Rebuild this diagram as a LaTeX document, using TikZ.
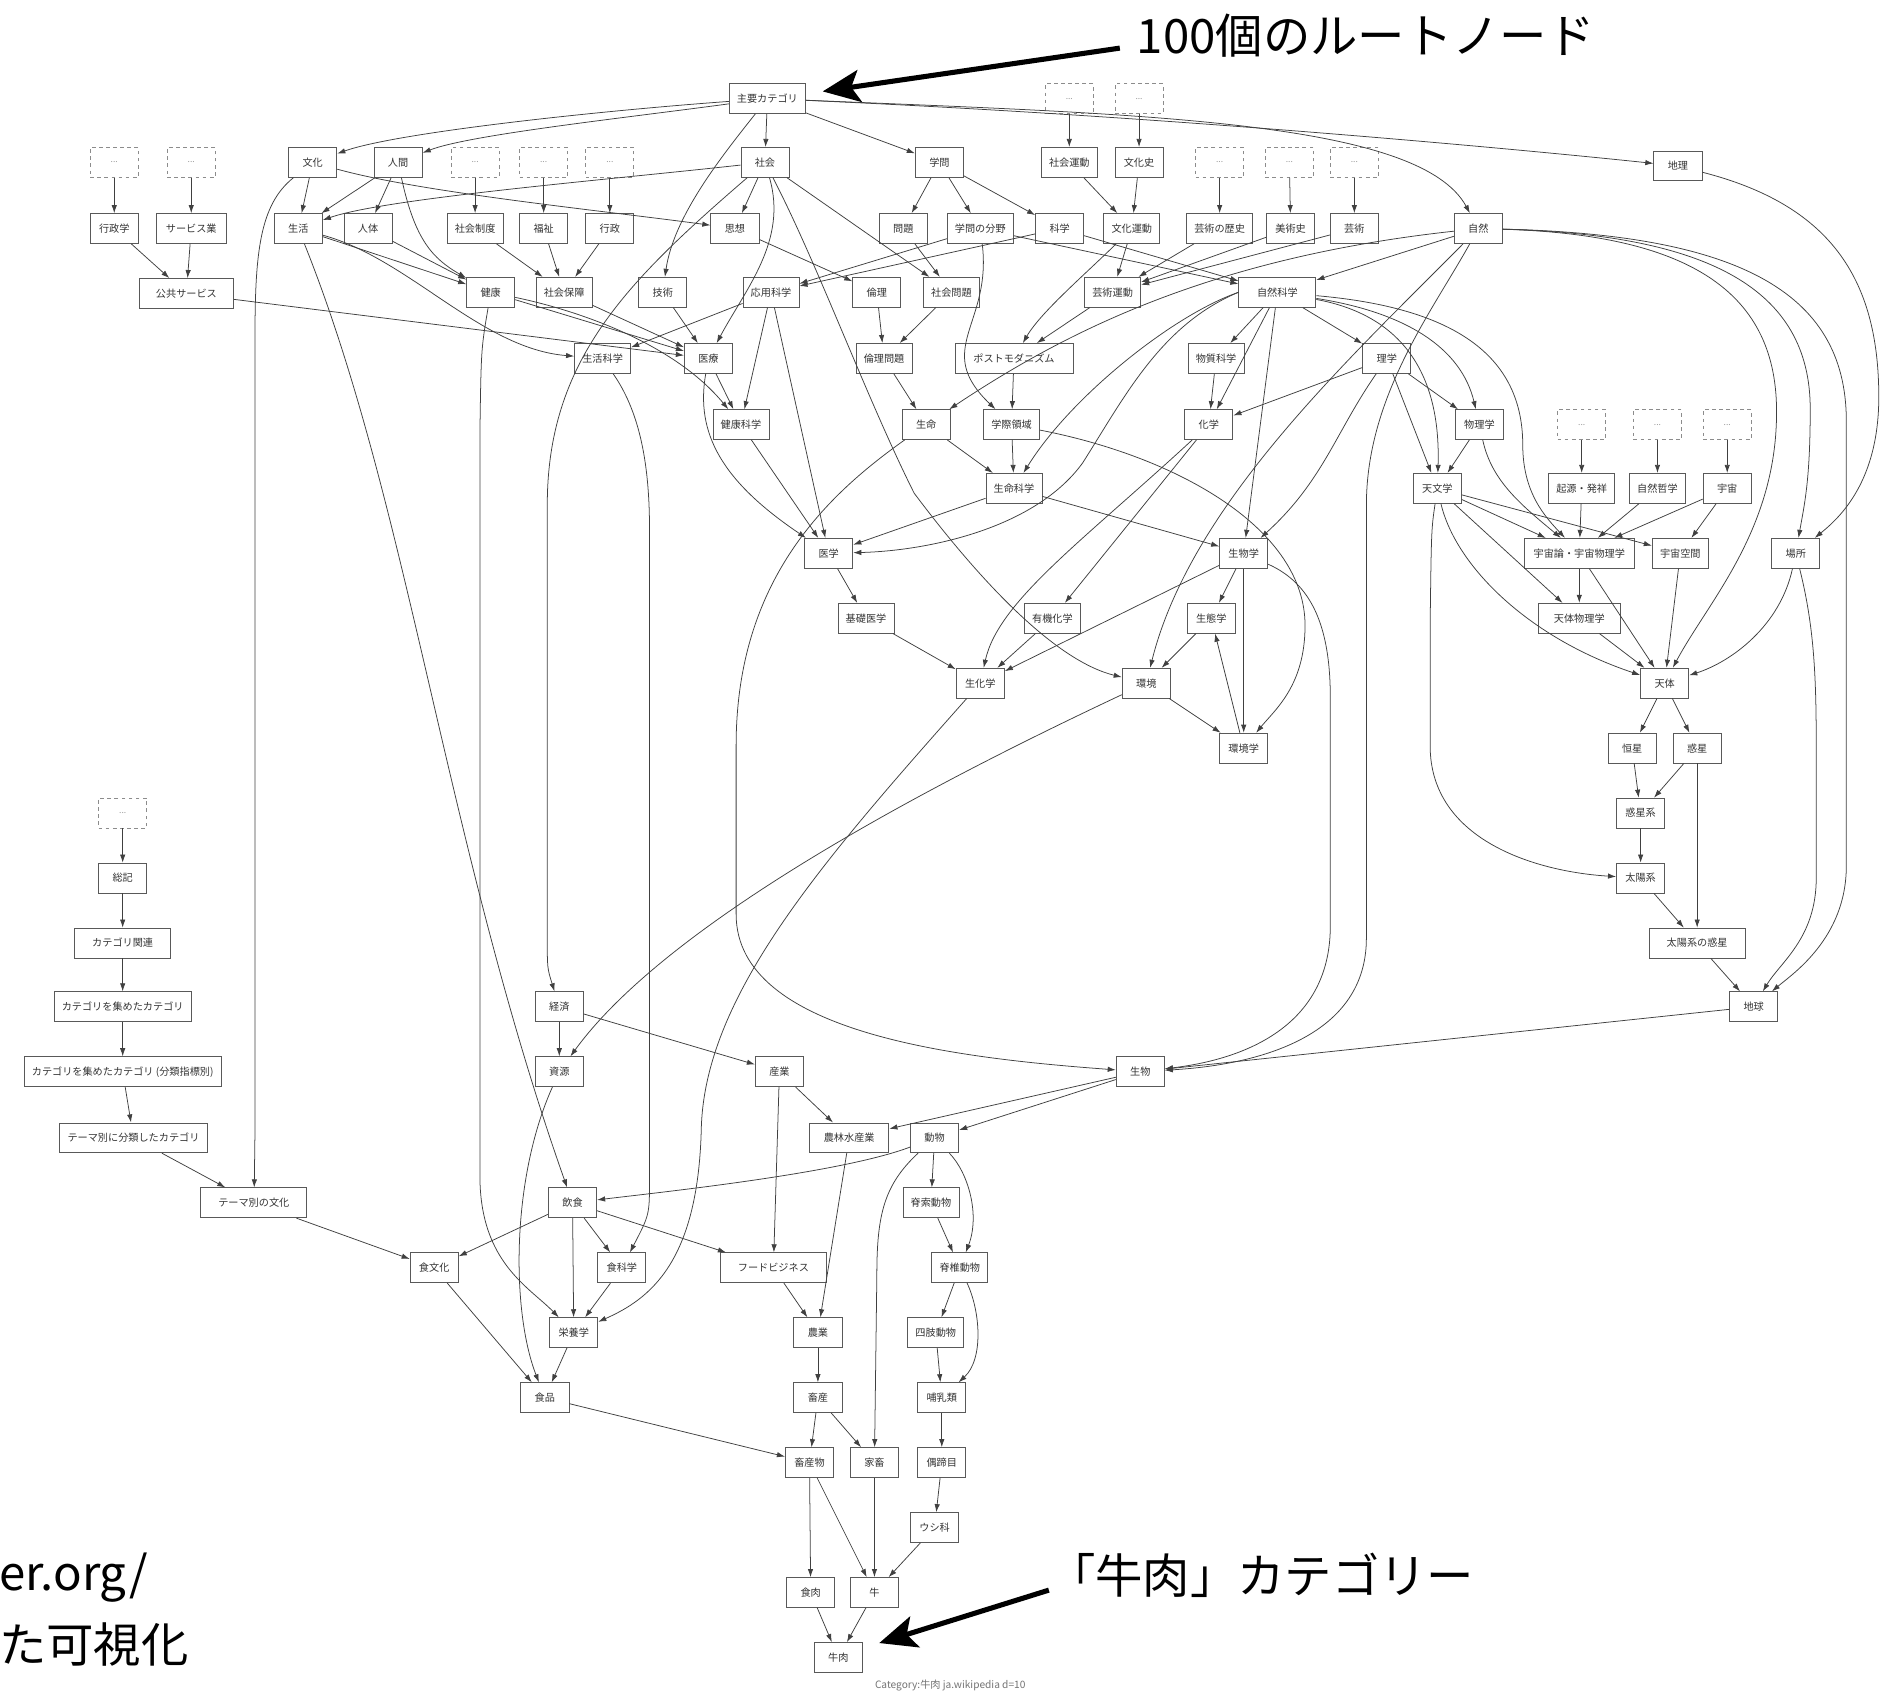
\documentclass[tikz,border=0pt]{standalone}
\usepackage{fontspec}
\setmainfont{Noto Sans CJK JP}
\usetikzlibrary{arrows.meta}
\begin{document}
\begin{tikzpicture}[x=0.025cm,y=-0.025cm,
  n/.style={draw=black!65,line width=0.5pt,fill=white,minimum width=1cm,minimum height=0.62cm,inner xsep=0.16cm,inner ysep=0pt,font=\fontsize{6}{7}\selectfont,text=black!80},
  dn/.style={draw=black!45,line width=0.5pt,dash pattern=on 2.2pt off 2pt,minimum width=1cm,minimum height=0.62cm,font=\fontsize{5}{6}\selectfont,text=black!40},
  e/.style={draw=black!75,line width=0.45pt,-{Latex[length=4.8pt,width=3.2pt]}},
  big/.style={line width=3pt,-{Stealth[length=22pt,width=19pt,inset=5pt]}},
  ann/.style={font=\fontsize{28}{30}\selectfont,inner sep=0pt}]
\useasboundingbox (0,0) rectangle (1568,1406);
% ---------- nodes ----------
\node[n] (main) at (638,82) {主要カテゴリ};
\node[dn] (dA) at (889,82) {...};
\node[dn] (dB) at (947,82) {...};
\node[dn] (dC) at (95,135) {...};
\node[dn] (dD) at (159,135) {...};
\node[n] (bunka) at (260,135) {文化};
\node[n] (ningen) at (331,135) {人間};
\node[dn] (dE) at (395,135) {...};
\node[dn] (dF) at (452,135) {...};
\node[dn] (dG) at (507,135) {...};
\node[n] (shakai) at (636,135) {社会};
\node[n] (gakumon) at (781,135) {学問};
\node[n] (shakaiundo) at (889,135) {社会運動};
\node[n] (bunkashi) at (947,135) {文化史};
\node[dn] (dH) at (1014,135) {...};
\node[dn] (dI) at (1072,135) {...};
\node[dn] (dJ) at (1126,135) {...};
\node[n] (chiri) at (1395,138) {地理};
\node[n] (gyoseigaku) at (95,190) {行政学};
\node[n,minimum width=1.45cm] (service) at (159,190) {サービス業};
\node[n] (seikatsu) at (248,190) {生活};
\node[n] (jintai) at (306,190) {人体};
\node[n] (shakaiseido) at (395,190) {社会制度};
\node[n] (fukushi) at (452,190) {福祉};
\node[n] (gyosei) at (507,190) {行政};
\node[n] (shiso) at (611,190) {思想};
\node[n] (mondai) at (751,190) {問題};
\node[n] (bunya) at (815,190) {学問の分野};
\node[n] (kagaku) at (881,190) {科学};
\node[n] (bunkaundo) at (941,190) {文化運動};
\node[n] (geirek) at (1014,190) {芸術の歴史};
\node[n] (bijutsushi) at (1073,190) {美術史};
\node[n] (geijutsu) at (1126,190) {芸術};
\node[n] (shizen) at (1229,190) {自然};
\node[n,minimum width=1.95cm] (kokyo) at (155,244) {公共サービス};
\node[n] (kenko) at (408,243) {健康};
\node[n] (shakaihosho) at (469,243) {社会保障};
\node[n] (gijutsu) at (551,243) {技術};
\node[n] (oyokagaku) at (641,243) {応用科学};
\node[n] (rinri) at (729,243) {倫理};
\node[n] (shakaimondai) at (791,243) {社会問題};
\node[n] (geijutsuundo) at (925,243) {芸術運動};
\node[n,minimum width=1.6cm] (shizenkagaku) at (1062,243) {自然科学};
\node[n] (seikatsukagaku) at (501,298) {生活科学};
\node[n] (iryo) at (589,298) {医療};
\node[n] (rinrimondai) at (735,298) {倫理問題};
\node[n,minimum width=2.45cm] (postmodern) at (843,298) {ポストモダニズム};
\node[n] (busshitsu) at (1011,298) {物質科学};
\node[n] (rigaku) at (1153,298) {理学};
\node[n] (kenkokagaku) at (616,353) {健康科学};
\node[n] (seimei) at (770,353) {生命};
\node[n] (gakusai) at (841,353) {学際領域};
\node[n] (kagakuC) at (1005,353) {化学};
\node[n] (butsuri) at (1230,353) {物理学};
\node[dn] (dK) at (1315,353) {...};
\node[dn] (dL) at (1378,353) {...};
\node[dn] (dM) at (1436,353) {...};
\node[n] (seimeikagaku) at (843,406) {生命科学};
\node[n] (tenmon) at (1195,406) {天文学};
\node[n] (kigen) at (1315,406) {起源・発祥};
\node[n] (shizentetsu) at (1378,406) {自然哲学};
\node[n] (uchu) at (1436,406) {宇宙};
\node[n] (igaku) at (689,460) {医学};
\node[n] (seibutsugaku) at (1034,460) {生物学};
\node[n,minimum width=2.3cm] (uchuron) at (1313,460) {宇宙論・宇宙物理学};
\node[n] (uchukukan) at (1397,460) {宇宙空間};
\node[n] (basho) at (1493,460) {場所};
\node[n] (kisoigaku) at (720,514) {基礎医学};
\node[n] (yuki) at (875,514) {有機化学};
\node[n] (seitai) at (1007,514) {生態学};
\node[n,minimum width=1.7cm] (tentaibutsuri) at (1313,514) {天体物理学};
\node[n] (seikagaku) at (815,568) {生化学};
\node[n] (kankyo) at (953,568) {環境};
\node[n] (tentai) at (1384,568) {天体};
\node[n] (kankyogaku) at (1034,622) {環境学};
\node[n] (kosei) at (1357,622) {恒星};
\node[n] (wakusei) at (1411,622) {惑星};
\node[dn] (dN) at (102,676) {...};
\node[n] (wakuseikei) at (1364,676) {惑星系};
\node[n] (soki) at (102,730) {総記};
\node[n] (taiyokei) at (1364,730) {太陽系};
\node[n,minimum width=2cm] (catkanren) at (102,784) {カテゴリ関連};
\node[n,minimum width=2cm] (taiyowakusei) at (1411,784) {太陽系の惑星};
\node[n] (catcat) at (102,837) {カテゴリを集めたカテゴリ};
\node[n] (keizai) at (465,837) {経済};
\node[n] (chikyu) at (1458,837) {地球};
\node[n] (catcat2) at (102,891) {カテゴリを集めたカテゴリ (分類指標別)};
\node[n] (shigen) at (465,891) {資源};
\node[n] (sangyo) at (648,891) {産業};
\node[n] (seibutsu) at (948,891) {生物};
\node[n] (theme) at (111,946) {テーマ別に分類したカテゴリ};
\node[n,minimum width=1.65cm] (norin) at (706,946) {農林水産業};
\node[n] (dobutsu) at (777,946) {動物};
\node[n,minimum width=2.2cm] (themebunka) at (211,1000) {テーマ別の文化};
\node[n] (inshoku) at (476,1000) {飲食};
\node[n] (sekisaku) at (774,1000) {脊索動物};
\node[n] (shokubunka) at (361,1054) {食文化};
\node[n] (shokkagaku) at (517,1054) {食科学};
\node[n,minimum width=2.2cm] (food) at (643,1054) {フードビジネス};
\node[n] (sekitsui) at (798,1054) {脊椎動物};
\node[n] (eiyo) at (477,1108) {栄養学};
\node[n] (nogyo) at (680,1108) {農業};
\node[n] (shishi) at (778,1108) {四肢動物};
\node[n] (shokuhin) at (453,1162) {食品};
\node[n] (chikusan) at (680,1162) {畜産};
\node[n] (honyurui) at (783,1162) {哺乳類};
\node[n] (chikusanbutsu) at (673,1216) {畜産物};
\node[n] (kachiku) at (727,1216) {家畜};
\node[n] (gutei) at (783,1216) {偶蹄目};
\node[n] (ushika) at (777,1270) {ウシ科};
\node[n] (shokuniku) at (674,1324) {食肉};
\node[n] (ushi) at (727,1324) {牛};
\node[n] (gyuniku) at (697,1378) {牛肉};
\node[font=\fontsize{6}{7}\selectfont,text=black!55,inner sep=0pt] (caption) at (790,1401) {Category:牛肉 ja.wikipedia d=10};
% ---------- annotations ----------
\node[ann,anchor=east] (ann1) at (1326,30) {100個のルートノード};
\node[ann,anchor=east] (ann2) at (1226,1310) {「牛肉」カテゴリー};
\node[ann,anchor=west] (ann3) at (-1,1312) {er.org/};
\node[ann,anchor=west] (ann4) at (-1,1367) {た可視化};
\coordinate (s1) at (931,40);
\coordinate (t1) at (684,76);
\coordinate (s2) at (872,1322);
\coordinate (t2) at (731,1366);
\draw[big] (s1) -- (t1);
\draw[big] (s2) -- (t2);
% ---------- straight edges ----------
\foreach \a/\b in {main/shakai,main/gakumon,dA/shakaiundo,dB/bunkashi,dC/gyoseigaku,dD/service,
  dE/shakaiseido,dF/fukushi,dG/gyosei,dH/geirek,dI/bijutsushi,dJ/geijutsu,dK/kigen,dL/shizentetsu,dM/uchu,dN/soki,
  bunka/seikatsu,ningen/seikatsu,ningen/jintai,shakai/shiso,gakumon/mondai,gakumon/bunya,gakumon/kagaku,
  shakaiundo/bunkaundo,bunkashi/bunkaundo,gyoseigaku/kokyo,service/kokyo,shakaiseido/shakaihosho,fukushi/shakaihosho,
  gyosei/shakaihosho,seikatsu/kenko,jintai/kenko,shiso/rinri,mondai/shakaimondai,shakai/shakaimondai,
  bunya/oyokagaku,kagaku/oyokagaku,bunkaundo/geijutsuundo,geirek/geijutsuundo,bijutsushi/geijutsuundo,geijutsu/geijutsuundo,
  bunya/shizenkagaku,kagaku/shizenkagaku,shizen/shizenkagaku,kokyo/iryo,kenko/iryo,shakaihosho/iryo,gijutsu/iryo,
  oyokagaku/seikatsukagaku,rinri/rinrimondai,shakaimondai/rinrimondai,geijutsuundo/postmodern,
  shizenkagaku/busshitsu,shizenkagaku/rigaku,shizenkagaku/kagakuC,shizenkagaku/seibutsugaku,
  iryo/kenkokagaku,oyokagaku/kenkokagaku,rinrimondai/seimei,postmodern/gakusai,busshitsu/kagakuC,
  rigaku/kagakuC,rigaku/butsuri,rigaku/tenmon,butsuri/tenmon,seimei/seimeikagaku,gakusai/seimeikagaku,
  kigen/uchuron,shizentetsu/uchuron,uchu/uchuron,uchu/uchukukan,tenmon/uchuron,tenmon/uchukukan,tenmon/tentaibutsuri,
  seimeikagaku/igaku,seimeikagaku/seibutsugaku,kenkokagaku/igaku,oyokagaku/igaku,igaku/kisoigaku,seibutsugaku/seitai,
  uchuron/tentaibutsuri,uchuron/tentai,uchukukan/tentai,tentaibutsuri/tentai,kisoigaku/seikagaku,yuki/seikagaku,
  seibutsugaku/seikagaku,kagakuC/yuki,seitai/kankyo,kankyo/kankyogaku,seibutsugaku/kankyogaku,kankyogaku/seitai,
  tentai/kosei,tentai/wakusei,kosei/wakuseikei,wakusei/wakuseikei,wakuseikei/taiyokei,taiyokei/taiyowakusei,
  wakusei/taiyowakusei,taiyowakusei/chikyu,soki/catkanren,catkanren/catcat,catcat/catcat2,catcat2/theme,
  theme/themebunka,themebunka/shokubunka,chikyu/seibutsu,keizai/shigen,keizai/sangyo,seibutsu/norin,seibutsu/dobutsu,
  sangyo/norin,sangyo/food,dobutsu/sekisaku,inshoku/shokubunka,inshoku/shokkagaku,inshoku/eiyo,inshoku/food,
  shokkagaku/eiyo,sekisaku/sekitsui,food/nogyo,norin/nogyo,sekitsui/shishi,shokubunka/shokuhin,eiyo/shokuhin,
  nogyo/chikusan,shishi/honyurui,shokuhin/chikusanbutsu,chikusan/chikusanbutsu,chikusan/kachiku,honyurui/gutei,
  gutei/ushika,chikusanbutsu/shokuniku,chikusanbutsu/ushi,kachiku/ushi,ushika/ushi,shokuniku/gyuniku,ushi/gyuniku}
  {\draw[e] (\a) -- (\b);}
% ---------- curved edges ----------
\draw[e] (main) .. controls (500,92) and (330,110) .. (bunka);
\draw[e] (main) .. controls (520,98) and (390,112) .. (ningen);
\draw[e] (main) .. controls (1000,98) and (1300,128) .. (chiri);
\draw[e] (main) .. controls (950,95) and (1180,100) .. (shizen);
\draw[e] (main) .. controls (600,130) and (560,180) .. (gijutsu);
\draw[e] (shakai) .. controls (500,150) and (320,165) .. (seikatsu);
\draw[e] (bunka) .. controls (350,160) and (500,175) .. (shiso);
\draw[e] (ningen) .. controls (345,200) and (360,215) .. (kenko);
\draw[e] (seikatsu) .. controls (340,215) and (400,290) .. (seikatsukagaku);
\draw[e] (kenko) .. controls (480,258) and (560,285) .. (kenkokagaku);
\draw[e] (seikatsu) .. controls (340,420) and (370,700) .. (inshoku);
\draw[e] (bunka) .. controls (216,170) and (212,210) .. (212,280) -- (212,940) .. controls (212,960) .. (themebunka);
\draw[e] (kenko) .. controls (400,290) .. (399,360) -- (399,980) .. controls (400,1050) and (440,1070) .. (eiyo);
\draw[e] (shakai) .. controls (520,235) and (455,300) .. (455,420) -- (455,780) .. controls (455,805) .. (keizai);
\draw[e] (seikatsukagaku) .. controls (530,340) and (540,380) .. (540,440) -- (540,980) .. controls (540,1010) .. (shokkagaku);
\draw[e] (shigen) .. controls (425,980) and (425,1090) .. (shokuhin);
\draw[e] (seikagaku) .. controls (680,720) and (585,830) .. (583,940) .. controls (580,1050) and (540,1080) .. (eiyo);
\draw[e] (kankyo) .. controls (800,640) and (560,760) .. (shigen);
\draw[e] (seimei) .. controls (690,410) and (612,480) .. (612,620) -- (612,760) .. controls (612,860) and (800,880) .. (seibutsu);
\draw[e] (shakai) .. controls (680,220) and (720,330) .. (760,410) .. controls (820,490) and (880,550) .. (kankyo);
\draw[e] (shakai) .. controls (655,200) and (620,240) .. (iryo);
\draw[e] (iryo) .. controls (578,360) and (600,400) .. (igaku);
\draw[e] (shizenkagaku.west) .. controls (965,270) and (935,330) .. (900,385) .. controls (860,440) and (770,458) .. (igaku);
\draw[e] (shizenkagaku.west) .. controls (975,262) and (890,330) .. (seimeikagaku);
\draw[e] (bunya) .. controls (825,270) and (775,290) .. (gakusai);
\draw[e] (bunkaundo) .. controls (900,230) and (865,260) .. (postmodern);
\draw[e] (shizen) .. controls (1000,215) and (880,280) .. (seimei);
\draw[e] (shizen) .. controls (1120,300) and (990,420) .. (kankyo);
\draw[e] (shizen) .. controls (1190,260) and (1136,330) .. (1136,420) -- (1136,780) .. controls (1136,860) and (1050,885) .. (seibutsu);
\draw[e] (seibutsugaku) .. controls (1090,485) and (1106,520) .. (1106,580) -- (1106,770) .. controls (1106,850) and (1040,880) .. (seibutsu);
\draw[e] (tenmon) .. controls (1190,440) .. (1189,520) -- (1189,620) .. controls (1189,700) and (1280,725) .. (taiyokei);
\draw[e] (tenmon) .. controls (1210,470) and (1270,530) .. (tentai);
\draw[e] (shizen) .. controls (1400,195) and (1476,240) .. (1477,340) .. controls (1478,440) and (1420,500) .. (tentai);
\draw[e] (shizen) .. controls (1420,195) and (1505,240) .. (1505,340) .. controls (1505,400) and (1500,420) .. (basho);
\draw[e] (shizen) .. controls (1440,195) and (1535,240) .. (1535,350) -- (1535,720) .. controls (1535,780) and (1490,810) .. (chikyu);
\draw[e] (chiri) .. controls (1520,170) and (1562,230) .. (1562,330) .. controls (1562,400) and (1530,430) .. (basho);
\draw[e] (basho) .. controls (1480,520) and (1440,550) .. (tentai);
\draw[e] (basho) .. controls (1508,520) and (1510,560) .. (1510,620) -- (1510,730) .. controls (1510,780) and (1480,800) .. (chikyu);
\draw[e] (butsuri) .. controls (1240,400) and (1265,420) .. (uchuron);
\draw[e] (shizenkagaku) .. controls (1200,255) and (1266,290) .. (1266,370) .. controls (1266,410) and (1285,430) .. (uchuron);
\draw[e] (shizenkagaku) .. controls (1170,260) and (1215,290) .. (butsuri);
\draw[e] (shizenkagaku) .. controls (1165,262) and (1198,310) .. (tenmon);
\draw[e] (rigaku) .. controls (1110,360) and (1100,400) .. (seibutsugaku);
\draw[e] (gakusai) .. controls (980,380) and (1085,440) .. (1085,520) .. controls (1085,570) and (1060,590) .. (kankyogaku);
\draw[e] (kagakuC) .. controls (900,450) and (830,500) .. (seikagaku);
\draw[e] (dobutsu) .. controls (700,975) and (560,990) .. (inshoku);
\draw[e] (dobutsu) .. controls (735,985) and (729,1010) .. (729,1060) -- (kachiku);
\draw[e] (dobutsu) .. controls (805,975) and (815,1010) .. (sekitsui);
\draw[e] (sekitsui) .. controls (815,1090) and (818,1130) .. (honyurui);
\end{tikzpicture}
\end{document}
